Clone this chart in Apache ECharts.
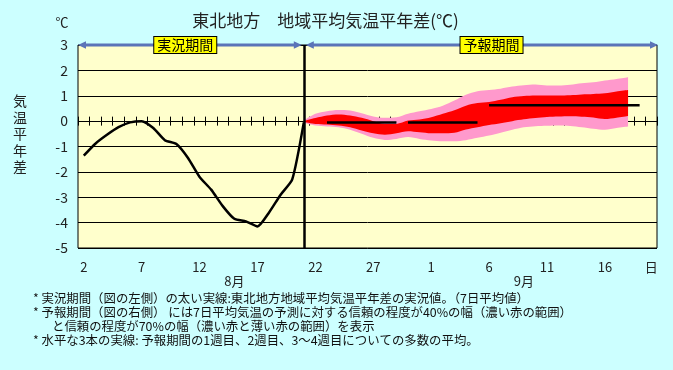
<!DOCTYPE html>
<html><head><meta charset="utf-8">
<script src="https://cdn.jsdelivr.net/npm/echarts@6/dist/echarts.min.js"></script>
<style>html,body{margin:0;padding:0;background:#CCFFFF;}#c{width:673px;height:370px;}</style>
</head><body><div id="c"></div>
<script>
// ---- data ----
const dates = ['8/2','8/3','8/4','8/5','8/6','8/7','8/8','8/9','8/10','8/11','8/12','8/13','8/14','8/15','8/16','8/17','8/18','8/19','8/20','8/21','8/22','8/23','8/24','8/25','8/26','8/27','8/28','8/29','8/30','8/31','9/1','9/2','9/3','9/4','9/5','9/6','9/7','9/8','9/9','9/10','9/11','9/12','9/13','9/14','9/15','9/16','9/17','9/18','9/19','9/20'];
const xTickLabels = {'8/2':'2','8/7':'7','8/12':'12','8/17':'17','8/22':'22','8/27':'27','9/1':'1','9/6':'6','9/11':'11','9/16':'16','9/20':'日'};
const monthLabels = {'8/15':'8月','9/9':'9月'};
const yTicks = [-5,-4,-3,-2,-1,0,1,2,3];

const observedStart = '8/2';
const observed = [-1.36,-0.89,-0.54,-0.24,-0.05,0.0,-0.27,-0.75,-0.9,-1.45,-2.2,-2.7,-3.35,-3.85,-3.95,-4.15,-3.6,-2.9,-2.3,-0.05];

const forecastStart = '8/21';
const pinkUpper = [0.03,0.29,0.39,0.44,0.42,0.31,0.18,0.13,0.15,0.29,0.39,0.48,0.61,0.81,1.04,1.18,1.23,1.28,1.36,1.41,1.44,1.40,1.40,1.43,1.49,1.53,1.60,1.66,1.73];
const redUpper  = [0.0,0.12,0.22,0.26,0.22,0.13,0.0,-0.11,-0.11,0.02,0.06,0.15,0.29,0.43,0.61,0.71,0.75,0.84,0.94,0.99,1.01,1.01,1.01,1.02,1.05,1.07,1.10,1.17,1.23];
const redLower  = [-0.03,-0.11,-0.13,-0.17,-0.24,-0.37,-0.48,-0.54,-0.48,-0.40,-0.44,-0.48,-0.48,-0.46,-0.33,-0.24,-0.15,-0.08,0.0,0.07,0.12,0.16,0.18,0.19,0.17,0.14,0.08,0.13,0.2];
const pinkLower = [-0.06,-0.17,-0.21,-0.24,-0.34,-0.50,-0.66,-0.74,-0.70,-0.63,-0.70,-0.76,-0.79,-0.79,-0.75,-0.66,-0.57,-0.46,-0.34,-0.24,-0.2,-0.18,-0.17,-0.19,-0.24,-0.30,-0.34,-0.27,-0.21];

const weekStart = ['8/23','8/30','9/6'];
const weekEnd   = ['8/29','9/5','9/19'];
const weekMean  = [-0.05,-0.05,0.63];

const titleText = '東北地方　地域平均気温平年差(℃)';
const notes = [
  '* 実況期間（図の左側）の太い実線:東北地方地域平均気温平年差の実況値。（7日平均値）',
  '* 予報期間（図の右側） には7日平均気温の予測に対する信頼の程度が40%の幅（濃い赤の範囲）',
  'と信頼の程度が70%の幅（濃い赤と薄い赤の範囲）を表示',
  '* 水平な3本の実線: 予報期間の1週目、2週目、3～4週目についての多数の平均。'
];

// ---- build ----
const FONT = '"Noto Sans CJK JP","Noto Sans",sans-serif';
const G = {left:78, top:45, width:579, height:203};
function align(startKey, vals){
  const arr = dates.map(()=>null);
  const s = dates.indexOf(startKey);
  vals.forEach((v,i)=>{arr[s+i]=v;});
  return arr;
}
function segment(a,b,v){
  const arr = dates.map(()=>null);
  for(let i=dates.indexOf(a);i<=dates.indexOf(b);i++) arr[i]=v;
  return arr;
}
const obsData = align(observedStart, observed);
const plBase = align(forecastStart, pinkLower);
const pBand = align(forecastStart, pinkUpper.map((v,i)=>+(v-pinkLower[i]).toFixed(3)));
const rlBase = align(forecastStart, redLower);
const rBand = align(forecastStart, redUpper.map((v,i)=>+(v-redLower[i]).toFixed(3)));

const bandCommon = {type:'line', symbol:'none', smooth:0.3, stackStrategy:'all', silent:true, lineStyle:{width:0, opacity:0}};
const series = [
  Object.assign({}, bandCommon, {name:'pl', stack:'pink', data:plBase}),
  Object.assign({}, bandCommon, {name:'pb', stack:'pink', data:pBand, areaStyle:{color:'#FF99CC', opacity:1}}),
  Object.assign({}, bandCommon, {name:'rl', stack:'red', data:rlBase}),
  Object.assign({}, bandCommon, {name:'rb', stack:'red', data:rBand, areaStyle:{color:'#FF0000', opacity:1}}),
];
weekMean.forEach((m,i)=>{
  series.push({type:'line', symbol:'none', silent:true, data:segment(weekStart[i], weekEnd[i], m), lineStyle:{color:'#000', width:2.5}, z:5});
});
series.push({type:'line', symbol:'none', silent:true, data:obsData, smooth:0.2, lineStyle:{color:'#000', width:2.5}, z:6,
  markLine:{silent:true, symbol:['none','none'], label:{show:false}, lineStyle:{color:'#000', width:2.5, type:'solid'}, data:[{xAxis:forecastStart}]}});

const chart = echarts.init(document.getElementById('c'));
chart.setOption({
  animation:false,
  backgroundColor:'#CCFFFF',
  grid:{left:G.left, top:G.top, width:G.width, height:G.height, show:true, backgroundColor:'#FFFFCC', borderColor:'#000', borderWidth:1},
  xAxis:[
    {type:'category', data:dates, boundaryGap:true, position:'bottom',
     axisLine:{show:false,onZero:false}, axisTick:{show:false}, splitLine:{show:false},
     axisLabel:{interval:0, margin:13, color:'#222', fontSize:13, fontFamily:FONT, formatter:v=>xTickLabels[v]||''}},
    {type:'category', data:dates, boundaryGap:true, position:'bottom', offset:-(G.height*5/8)+4.5,
     axisLine:{show:false,onZero:false}, splitLine:{show:false},
     axisTick:{show:true, interval:0, inside:true, length:9, lineStyle:{color:'#000', width:1}}, axisLabel:{show:false}},
    {type:'category', data:dates, boundaryGap:true, position:'bottom',
     axisLine:{show:false,onZero:false}, axisTick:{show:false}, splitLine:{show:false},
     axisLabel:{interval:0, margin:27, color:'#222', fontSize:13, fontFamily:FONT, formatter:v=>monthLabels[v]||''}}
  ],
  yAxis:{type:'value', min:yTicks[0], max:yTicks[yTicks.length-1], interval:1,
    axisLine:{show:false}, axisTick:{show:false},
    axisLabel:{color:'#222', fontSize:14, margin:10, fontFamily:FONT},
    splitLine:{lineStyle:{color:'#000', width:1}}},
  series
});

const xDiv = chart.convertToPixel({xAxisIndex:0}, forecastStart);
const yTop = chart.convertToPixel({yAxisIndex:0}, yTicks[yTicks.length-1]);
const xL = G.left, xR = G.left + G.width + 1;
const BLUE = '#5b74b8';
function arrow(x1, x2, y){
  const h = 8, w = 3.8;
  return [
    {type:'line', shape:{x1:x1+h-1, y1:y, x2:x2-h+1, y2:y}, style:{stroke:BLUE, lineWidth:3}, z:10},
    {type:'polygon', shape:{points:[[x1,y],[x1+h,y-w],[x1+h,y+w]]}, style:{fill:BLUE}, z:10},
    {type:'polygon', shape:{points:[[x2,y],[x2-h,y-w],[x2-h,y+w]]}, style:{fill:BLUE}, z:10}
  ];
}
function box(text, x, y){
  return {type:'text', x:x, y:y, z:11, style:{text:text, fill:'#000', font:'14px '+FONT, align:'center', verticalAlign:'middle',
    backgroundColor:'#FFFF00', borderColor:'#000', borderWidth:1, padding:[1,3,0,3], lineHeight:15}};
}
const g = [];
g.push(...arrow(xL, xDiv-2, yTop));
g.push(...arrow(xDiv+2, xR, yTop));
g.push(box('実況期間', xL + (xDiv-xL)*0.475, yTop));
g.push(box('予報期間', xDiv + (xR-xDiv)*0.53, yTop));
g.push({type:'text', x:325.5, y:21, style:{text:titleText, fill:'#222', font:'17px '+FONT, align:'center', verticalAlign:'middle'}});
g.push({type:'text', x:62, y:22, style:{text:'℃', fill:'#222', font:'13px '+FONT, align:'center', verticalAlign:'middle'}});
g.push({type:'text', x:20, y:134, style:{text:'気\n温\n平\n年\n差', fill:'#222', font:'14px '+FONT, align:'center', verticalAlign:'middle', lineHeight:16.5}});
const noteX = [33,33,52,33], noteY = [298.5,312.5,326.5,340.5];
notes.forEach((t,i)=>{
  g.push({type:'text', x:noteX[i], y:noteY[i], style:{text:t, fill:'#111', font:'12.4px '+FONT, align:'left', verticalAlign:'middle'}});
});
chart.setOption({graphic:g});
</script></body></html>
